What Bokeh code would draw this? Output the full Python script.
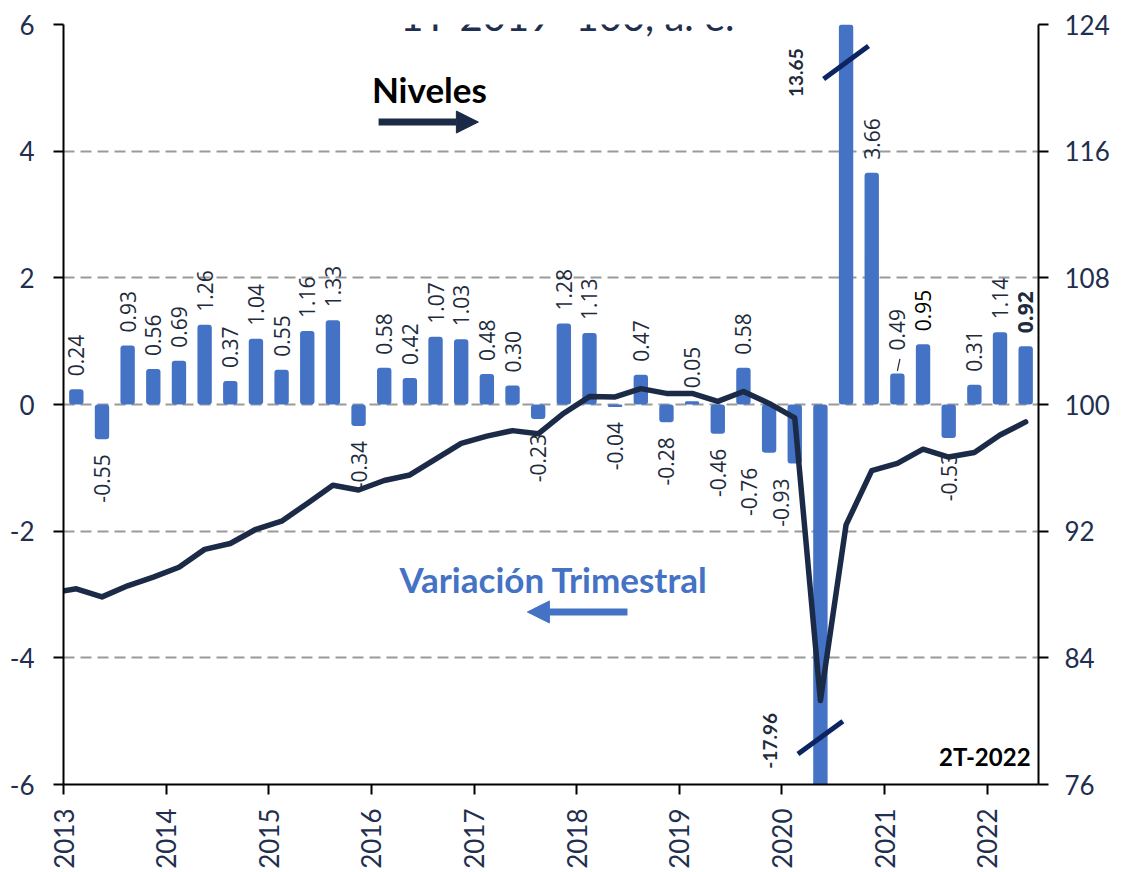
import numpy as np
from bokeh.plotting import figure
from bokeh.models import (Range1d, LinearAxis, FixedTicker, ColumnDataSource, Label,
                          Arrow, NormalHead)
from bokeh.embed import file_html
from bokeh.resources import INLINE
from bokeh.core.properties import value

# ---------------- data ----------------
years = [2013, 2014, 2015, 2016, 2017, 2018, 2019, 2020, 2021, 2022]
quarters = [f"{y}-T{q}" for y in years for q in (1, 2, 3, 4)][:38]

# Variación trimestral (%), left axis
variacion = [0.24, -0.55, 0.93, 0.56,
             0.69, 1.26, 0.37, 1.04,
             0.55, 1.16, 1.33, -0.34,
             0.58, 0.42, 1.07, 1.03,
             0.48, 0.30, -0.23, 1.28,
             1.13, -0.04, 0.47, -0.28,
             0.05, -0.46, 0.58, -0.76,
             -0.93, -17.96, 13.65, 3.66,
             0.49, 0.95, -0.53, 0.31,
             1.14, 0.92]

# Niveles (1T-2019=100), right axis; series starts one quarter earlier (2012-T4)
niveles_q = ["2012-T4"] + quarters
niveles = [88.10,
           88.36, 87.85, 88.55, 89.10,
           89.72, 90.85, 91.22, 92.12,
           92.63, 93.75, 94.90, 94.60,
           95.20, 95.55, 96.55, 97.55,
           98.00, 98.35, 98.15, 99.45,
           100.50, 100.48, 101.00, 100.70,
           100.70, 100.20, 100.82, 100.07,
           99.15, 81.30, 92.40, 95.82,
           96.28, 97.18, 96.68, 96.97,
           98.07, 98.90]

left_ticks = [-6, -4, -2, 0, 2, 4, 6]
right_ticks = [76, 84, 92, 100, 108, 116, 124]

# ---------------- styles ----------------
BAR = "#4472C4"
LINE = "#1B2B47"
TICK_TXT = "#1F2F4F"
LBL_TXT = "#1E2B3C"
BREAK = "#0C2461"

n = len(variacion)
xb = np.arange(n) + 0.5
xl = np.arange(len(niveles)) - 1 + 0.5
year_ticks = [4 * (y - years[0]) for y in years]

p = figure(frame_width=975, frame_height=760,
           x_range=Range1d(0, n), y_range=Range1d(left_ticks[0], left_ticks[-1]),
           output_backend="svg", toolbar_location=None,
           min_border_left=63, min_border_right=84, min_border_top=24, min_border_bottom=88)
p.extra_y_ranges = {"lvl": Range1d(right_ticks[0], right_ticks[-1])}
p.outline_line_color = None
p.background_fill_color = "white"

# axes
p.xaxis.ticker = FixedTicker(ticks=year_ticks)
p.xaxis.major_label_overrides = {t: str(y) for t, y in zip(year_ticks, years)}
p.xaxis.major_label_orientation = np.pi / 2
p.yaxis.ticker = FixedTicker(ticks=left_ticks)
p.yaxis.major_label_overrides = {t: str(t) for t in left_ticks}
p.add_layout(LinearAxis(y_range_name="lvl", ticker=FixedTicker(ticks=right_ticks)), "right")

for ax in p.axis:
    ax.axis_line_color = "black"
    ax.axis_line_width = 2
    ax.major_tick_line_color = "black"
    ax.major_tick_line_width = 2
    ax.major_tick_out = 10
    ax.major_tick_in = 0
    ax.minor_tick_line_color = None
    ax.major_label_text_font = "Lato"
    ax.major_label_text_font_size = "26px"
    ax.major_label_text_color = TICK_TXT
p.xaxis.major_label_standoff = 14
p.yaxis[0].major_label_standoff = 19
p.yaxis[1].major_label_standoff = 16

p.xgrid.visible = False
p.ygrid.ticker = FixedTicker(ticks=left_ticks)
p.ygrid.grid_line_color = "#9A9A9A"
p.ygrid.grid_line_width = 2
p.ygrid.grid_line_dash = "11 6"

# bars
src = ColumnDataSource(dict(x=xb, v=variacion, q=quarters))
p.vbar(x="x", top="v", bottom=0, width=0.56, fill_color=BAR, line_color=None,
       border_radius=3, source=src)

# line
p.line(xl, niveles, y_range_name="lvl", line_width=5.5, line_color=LINE,
       line_join="round", line_cap="round")

# data labels (except the two clipped bars)
skip = {29, 30}
dx = {27: -0.8, 28: -0.55}
extra = {32: 10}
lx, ly, lt, la, lyo, lc, lw = [], [], [], [], [], [], []
for i, v in enumerate(variacion):
    if i in skip:
        continue
    lx.append(xb[i] + dx.get(i, 0))
    ly.append(v)
    lt.append(f"{v:.2f}")
    if v >= 0:
        la.append("left")
        lyo.append(-13 - extra.get(i, 0))
    else:
        la.append("right")
        lyo.append(15)
    lc.append("black" if i == 33 else LBL_TXT)
    lw.append("bold" if i == n - 1 else "normal")

lsrc = ColumnDataSource(dict(x=lx, y=ly, t=lt, a=la, yo=lyo, c=lc, w=lw))
p.text(x="x", y="y", text="t", angle=np.pi / 2, text_align="a", text_baseline="middle",
       y_offset="yo", text_color="c", text_font_style="w",
       text_font=value("Open Sans"), text_font_size="21px", source=lsrc)

# leader line for 0.49
i49 = 32
p.segment(x0=[xb[i49] + 0.1], y0=[variacion[i49] + 0.23], x1=[xb[i49]], y1=[variacion[i49] + 0.04],
          line_color=LBL_TXT, line_width=1.2)

# clipped bars: break marks and bold labels
i_lo, i_hi = 29, 30
p.segment(x0=[xb[i_hi] - 0.875, xb[i_lo] - 0.875], y0=[5.14, -5.52],
          x1=[xb[i_hi] + 0.875, xb[i_lo] + 0.875], y1=[5.66, -5.00],
          line_color=BREAK, line_width=5)
for i, yc in ((i_hi, 5.24), (i_lo, -5.31)):
    p.add_layout(Label(x=xb[i] - 1.95, y=yc, text=f"{variacion[i]:.2f}", angle=np.pi / 2,
                       text_align="center", text_baseline="middle", text_font="Lato",
                       text_font_style="bold", text_font_size="19px", text_color=LBL_TXT))

# annotations
p.add_layout(Label(x=19.64, y=6.14, text="1T-2019=100, a. e.", text_align="center",
                   text_baseline="alphabetic", text_font="Lato", text_font_size="40px",
                   text_color=TICK_TXT))
p.add_layout(Label(x=14.26, y=4.98, text="Niveles", text_align="center", text_baseline="middle",
                   text_font="Lato", text_font_style="bold", text_font_size="35px",
                   text_color="black"))
p.add_layout(Arrow(end=NormalHead(size=22, fill_color=LINE, line_color=LINE),
                   x_start=12.28, y_start=4.46, x_end=16.17, y_end=4.46,
                   line_color=LINE, line_width=7))
p.add_layout(Label(x=19.1, y=-2.755, text="Variación Trimestral", text_align="center",
                   text_baseline="middle", text_font="Lato", text_font_style="bold",
                   text_font_size="35px", text_color=BAR))
p.add_layout(Arrow(end=NormalHead(size=22, fill_color=BAR, line_color=BAR),
                   x_start=21.98, y_start=-3.276, x_end=18.08, y_end=-3.276,
                   line_color=BAR, line_width=7))
p.add_layout(Label(x=37.69, y=-5.55, text="2T-2022", text_align="right", text_baseline="middle",
                   text_font="Lato", text_font_style="bold", text_font_size="24px",
                   text_color="black"))

open("out.html", "w").write(file_html(p, INLINE))
